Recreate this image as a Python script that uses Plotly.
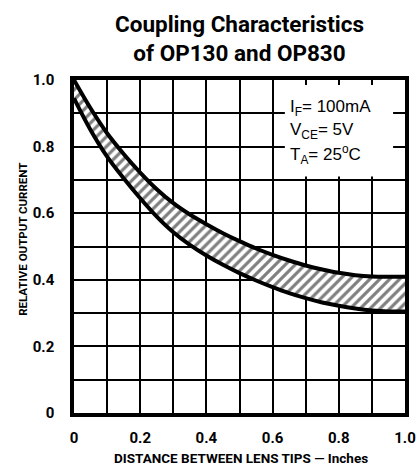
import plotly.graph_objects as go

# Data
distance = [0, 0.05, 0.1, 0.15, 0.2, 0.25, 0.3, 0.35, 0.4, 0.45, 0.5,
            0.55, 0.6, 0.65, 0.7, 0.75, 0.8, 0.85, 0.9, 0.95, 1.0]
upper = [1.0, 0.915, 0.84, 0.778, 0.722, 0.672, 0.630, 0.596, 0.567, 0.540, 0.516,
         0.494, 0.475, 0.458, 0.443, 0.431, 0.421, 0.414, 0.410, 0.409, 0.409]
lower = [0.945, 0.85, 0.77, 0.705, 0.645, 0.590, 0.543, 0.505, 0.473, 0.445, 0.420,
         0.398, 0.378, 0.360, 0.345, 0.332, 0.322, 0.314, 0.308, 0.305, 0.305]

x_tickvals = [0, 0.2, 0.4, 0.6, 0.8, 1.0]
x_ticktext = ["0", "0.2", "0.4", "0.6", "0.8", "1.0"]
y_tickvals = [0, 0.2, 0.4, 0.6, 0.8, 1.0]
y_ticktext = ["0", "0.2", "0.4", "0.6", "0.8", "1.0"]

x_title = "DISTANCE BETWEEN LENS TIPS \u2014 Inches"
y_title = "RELATIVE OUTPUT CURRENT"
chart_title = "Coupling Characteristics<br>of OP130 and OP830"
cond_lines = ["I<sub>F</sub>= 100mA", "V<sub>CE</sub>= 5V", "T<sub>A</sub>= 25<sup>o</sup>C"]

COND = "Roboto, Liberation Sans Narrow, Arial Narrow, sans-serif"
PLAIN = "Liberation Sans, Arial, Helvetica, sans-serif"

fig = go.Figure()
fig.add_trace(go.Scatter(
    x=distance, y=lower, mode="lines",
    line=dict(color="black", width=4, shape="spline", smoothing=1),
    hoverinfo="skip", showlegend=False,
))
fig.add_trace(go.Scatter(
    x=distance, y=upper, mode="lines",
    line=dict(color="black", width=4, shape="spline", smoothing=1),
    fill="tonexty", fillcolor="white",
    fillpattern=dict(shape="/", fgcolor="black", bgcolor="white", size=7, solidity=0.45),
    hoverinfo="skip", showlegend=False,
))

# white box behind the condition text (interrupts the grid)
fig.add_shape(type="rect", xref="x", yref="y", x0=0.637, x1=0.964, y0=0.71, y1=0.985,
              fillcolor="white", line=dict(width=0), layer="above")

ys = [0.915, 0.846, 0.777]
for t, yy in zip(cond_lines, ys):
    fig.add_annotation(x=0.645, y=yy, xref="x", yref="y", text=t, showarrow=False,
                       xanchor="left", yanchor="middle",
                       font=dict(family=PLAIN, size=17, color="black"))

# axis titles
fig.add_annotation(x=0.505, y=-0.135, xref="paper", yref="paper", text=x_title,
                   showarrow=False, xanchor="center", yanchor="middle",
                   font=dict(family=COND, size=13.5, color="black", weight="bold"))
fig.add_annotation(x=-0.154, y=0.52, xref="paper", yref="paper", text=y_title,
                   showarrow=False, xanchor="center", yanchor="middle", textangle=-90,
                   font=dict(family=COND, size=11.5, color="black", weight="bold"))

axis_common = dict(
    range=[0, 1], showgrid=True, gridcolor="black", gridwidth=1.8,
    zeroline=False, showline=True, linecolor="black", linewidth=3.5, mirror=True,
    automargin=False,
    ticks="", tickfont=dict(family=COND, size=15, color="black", weight="bold"),
    minor=dict(dtick=0.1, tick0=0, showgrid=True, gridcolor="black", gridwidth=1.8),
)

fig.update_xaxes(**axis_common, tickvals=x_tickvals, ticktext=x_ticktext,
                 ticklabelstandoff=8)
fig.update_yaxes(**axis_common, tickvals=y_tickvals, ticktext=y_ticktext,
                 ticklabelstandoff=13)

fig.update_layout(
    width=417, height=465, autosize=False,
    margin=dict(l=74, r=12, t=80, b=52),
    paper_bgcolor="white", plot_bgcolor="white",
    title=dict(text=chart_title,
               x=0.5, xref="paper", xanchor="center",
               y=0.932, yref="container", yanchor="middle",
               font=dict(family=COND, size=22.5, color="black", weight="bold")),
)

fig.write_html("out.html", config={"displayModeBar": False},
               post_script="document.body.style.margin='0';")
